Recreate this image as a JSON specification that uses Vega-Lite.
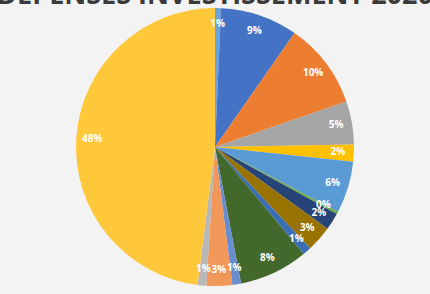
{
  "$schema": "https://vega.github.io/schema/vega-lite/v6.json",
  "width": 430,
  "height": 294,
  "autosize": {"type": "none"},
  "padding": 0,
  "background": "#f3f3f3",
  "title": {
    "text": "DÉPENSES INVESTISSEMENT 2020",
    "font": "Open Sans",
    "fontSize": 27,
    "fontWeight": "bold",
    "color": "#3b3b3b",
    "anchor": "middle",
    "offset": -10
  },
  "data": {
    "values": [
      {"i": 1, "k": "A", "v": 0.7, "label": "1%"},
      {"i": 2, "k": "B", "v": 9, "label": "9%"},
      {"i": 3, "k": "C", "v": 10, "label": "10%"},
      {"i": 4, "k": "D", "v": 5, "label": "5%"},
      {"i": 5, "k": "E", "v": 2, "label": "2%"},
      {"i": 6, "k": "F", "v": 6, "label": "6%"},
      {"i": 7, "k": "G", "v": 0.3, "label": "0%"},
      {"i": 8, "k": "H", "v": 2, "label": "2%"},
      {"i": 9, "k": "I", "v": 3, "label": "3%"},
      {"i": 10, "k": "J", "v": 1, "label": "1%"},
      {"i": 11, "k": "K", "v": 8, "label": "8%"},
      {"i": 12, "k": "L", "v": 1, "label": "1%"},
      {"i": 13, "k": "M", "v": 3, "label": "3%"},
      {"i": 14, "k": "N", "v": 1, "label": "1%"},
      {"i": 15, "k": "O", "v": 48, "label": "48%"}
    ]
  },
  "encoding": {
    "theta": {"field": "v", "type": "quantitative", "stack": true},
    "order": {"field": "i", "type": "quantitative"}
  },
  "layer": [
    {
      "mark": {"type": "arc", "outerRadius": 139},
      "encoding": {
        "color": {
          "field": "k",
          "type": "nominal",
          "legend": null,
          "scale": {
            "domain": ["A","B","C","D","E","F","G","H","I","J","K","L","M","N","O"],
            "range": ["#6aa3dc","#4472c4","#ed7d31","#a5a5a5","#ffc000","#5b9bd5","#70ad47","#264478","#997300","#3a6fb5","#43682b","#698ed0","#f1975a","#b7b7b7","#ffc83a"]
          }
        }
      }
    },
    {
      "mark": {"type": "text", "radius": 123, "font": "Open Sans", "fontWeight": "bold", "fontSize": 10, "fill": "#ffffff"},
      "encoding": {
        "text": {"field": "label", "type": "nominal"}
      }
    }
  ]
}
